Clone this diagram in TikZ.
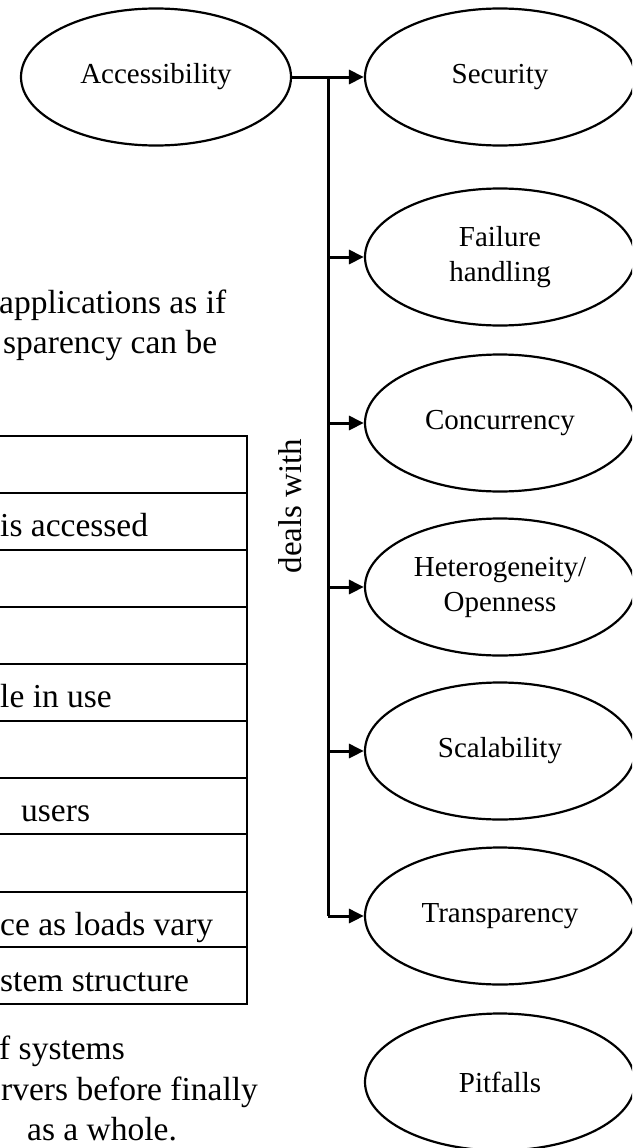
\documentclass[tikz,border=0pt]{standalone}
\usepackage{fontspec}
\setmainfont{Liberation Serif}
\usetikzlibrary{arrows.meta,shapes.geometric}

\tikzset{
  topic/.style={draw, ellipse, line width=2.2pt, minimum width=270pt, minimum height=137pt,
    inner sep=0pt, align=center, font=\fontsize{29}{35}\selectfont},
  link/.style={line width=3pt},
  linkarrow/.style={line width=3pt, -{Triangle[length=15pt,width=14pt]}},
  rule/.style={line width=2pt},
  bodytext/.style={anchor=base west, inner sep=0pt, font=\fontsize{33.5}{40}\selectfont},
}

\begin{document}
\begin{tikzpicture}[x=1pt, y=-1pt]
\useasboundingbox (0,0) rectangle (632,1148);
\begin{scope}
\clip (0,0) rectangle (632,1148);

% body text lines around the table
\node[bodytext] (p1) at (-1,313) {applications as if};
\node[bodytext] (p2) at (3,353) {sparency can be};
\node[bodytext] (p3) at (-1,1059) {f systems};
\node[bodytext] (p4) at (1,1100) {rvers before finally};
\node[bodytext] (p5) at (27,1140) {as a whole.};

% table: right border and row rules
\draw[rule] (-5,436) -- (247,436) -- (247,1004) -- (-5,1004);
\foreach \yy in {493,550,607,664,721,778,834,892,947}
  \draw[rule] (-5,\yy) -- (247,\yy);

% table cell texts
\node[bodytext] (t2) at (0,536) {is accessed};
\node[bodytext] (t5) at (0,707) {le in use};
\node[bodytext] (t7) at (21,821) {users};
\node[bodytext] (t9) at (0,935) {ce as loads vary};
\node[bodytext] (t10) at (0,991) {stem structure};

% topics
\node[topic] (acc)   at (156,77)  {Accessibility};
\node[topic] (sec)   at (500,77)  {Security};
\node[topic] (fail)  at (500,257) {Failure\\handling};
\node[topic] (conc)  at (500,423) {Concurrency};
\node[topic] (het)   at (500,587) {Heterogeneity/\\Openness};
\node[topic] (scal)  at (500,751) {Scalability};
\node[topic] (trans) at (500,916) {Transparency};
\node[topic] (pit)   at (500,1082) {Pitfalls};

% trunk label
\node[rotate=90, inner sep=0pt, font=\fontsize{33}{40}\selectfont] (deal) at (290,506) {deals with};

% trunk and branches
\coordinate (tk) at (328,77);
\draw[linkarrow] (acc.east) -- (sec.west);
\draw[link] (tk) -- (tk |- trans.west);
\draw[linkarrow] (tk |- trans.west) -- (trans.west);
\foreach \n in {fail,conc,het,scal}
  \draw[linkarrow] (tk |- \n.west) -- (\n.west);
\end{scope}
\end{tikzpicture}
\end{document}
